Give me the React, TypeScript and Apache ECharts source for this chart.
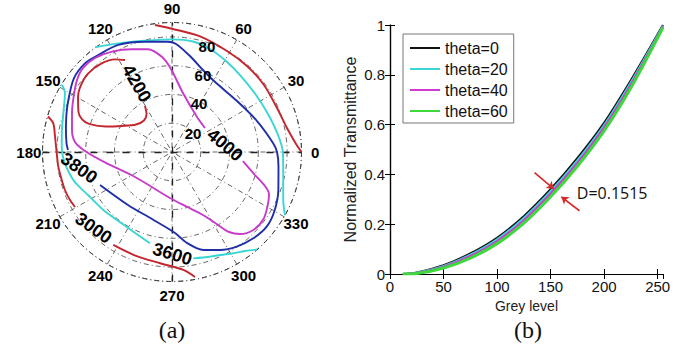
import { useEffect, useRef } from 'react';
import * as echarts from 'echarts';

// ---------- panel (a): polar contour plot ----------
const ANGLE_MIN = 0;
const ANGLE_MAX = 360;
const ANGLE_STEP = 30;
const ANGLE_LABELS = [0, 30, 60, 90, 120, 150, 180, 210, 240, 270, 300, 330];
const ANGLE_LABEL_RADIUS = 99.5;
const RADIUS_MAX = 90;
const RADIUS_STEP = 20;
const RADIAL_LABELS: [string, number, number][] = [
  ['20', 14.6, 13.2],
  ['40', 18.8, 33.4],
  ['60', 21.5, 53.5],
  ['80', 24.3, 73.2],
];

// contour lines, in radial units (x = r cos t, y = r sin t)
const C4200: number[][] = [
  [-18.8, 32.0], [-17.7, 26.4], [-19.5, 21.9], [-25.0, 19.1], [-34.7, 18.1], [-45.9, 17.7],
  [-57.7, 19.5], [-62.5, 22.6], [-65.0, 27.8], [-65.3, 38.2], [-63.2, 46.6], [-58.2, 54.7],
  [-48.9, 61.6], [-39.6, 64.4], [-32.7, 63.9],
];
const C4000: number[][] = [
  [49.3, -6.3], [57.7, -16.0], [64.6, -23.6], [67.4, -29.2], [66.7, -36.1], [63.6, -46.6],
  [56.5, -54.2], [47.3, -57.0], [39.6, -55.6], [32.0, -50.7], [21.5, -43.8], [10.2, -38.0],
  [-1.4, -32.0], [-25.7, -17.4], [-45.9, -7.6], [-60.5, 0.7], [-67.4, 6.9], [-69.5, 15.3],
  [-69.5, 27.1], [-68.4, 38.2], [-66.0, 50.0], [-61.8, 58.4], [-53.5, 65.3], [-41.7, 69.8],
  [-27.8, 71.4], [-16.7, 71.4], [-6.9, 66.0], [-0.7, 57.7], [7.6, 41.0], [17.4, 24.3], [22.9, 16.7],
];
const C3800: number[][] = [
  [-50.0, -22.9], [-30.6, -36.8], [-13.9, -46.6], [2.1, -56.3], [10.4, -63.2], [21.8, -68.1],
  [33.4, -68.1], [45.0, -65.8], [56.5, -60.0], [65.8, -51.9], [71.2, -41.0], [73.9, -26.4],
  [74.0, -10.4], [73.0, 0], [70.2, 6.3], [59.1, 21.5], [45.2, 35.4], [29.2, 49.3], [21.5, 57.0],
  [12.5, 66.7], [2.8, 75.1], [-2.8, 76.6], [-18.8, 76.6], [-37.3, 74.4], [-51.2, 67.4],
  [-60.5, 61.6], [-68.1, 51.4], [-71.6, 38.4], [-73.3, 27.1], [-73.7, 15.3], [-73.3, 6.0], [-72.3, 1.4],
];
const C3600_NE: number[][] = [
  [-53.5, 72.8], [-37.3, 75.5], [-18.8, 77.3], [-0.2, 78.3], [14.6, 76.8], [26.4, 71.6],
  [37.5, 63.2], [47.9, 52.8], [58.4, 39.6], [66.7, 26.4], [73.7, 11.8], [77.1, -0.7],
  [77.3, -17.2], [77.3, -33.4], [78.5, -43.8],
];
const C3600_W: number[][] = [
  [-76.4, 46.6], [-74.4, 41.0], [-75.5, 26.9], [-76.6, 13.0], [-76.6, 3.7], [-74.4, -7.9],
  [-68.6, -19.5], [-63.9, -24.7], [-58.4, -29.9], [-47.7, -40.3], [-37.3, -47.9], [-25.7, -56.3],
  [-15.3, -63.4],
];
const C3600_S: number[][] = [
  [14.8, -73.9], [26.4, -72.8], [33.4, -71.6], [42.6, -70.4], [50.7, -68.8], [59.1, -67.8],
];
const CRED_NE: number[][] = [
  [-11.8, 88.3], [0.7, 85.5], [19.5, 80.3], [38.2, 70.2], [52.1, 59.8], [63.9, 46.6],
  [73.0, 30.6], [79.9, 16.7], [86.2, 5.6], [90.0, 0],
];
const C3000_W: number[][] = [
  [-86.2, 24.7], [-82.5, 19.9], [-81.3, 10.6], [-80.1, -0.9], [-79.0, -10.2], [-76.6, -19.5],
  [-74.4, -26.4], [-70.9, -33.4], [-67.4, -38.2],
];
const C3000_S: number[][] = [
  [-40.8, -64.6], [-26.4, -71.6], [-8.3, -77.3], [7.9, -82.0], [16.0, -86.9],
];
const CONTOUR_LABELS: [string, number, number, number][] = [
  ['4200', -24.5, 47.7, -60],
  ['4000', 36.8, 4.9, -40],
  ['3800', -64.6, -11.1, -35],
  ['3000', -54.5, -52.8, -35],
  ['3600', 0.3, -70.9, -17],
];

// ---------- panel (b): transmittance curves ----------
const GREY = [12, 25, 50, 75, 100, 125, 150, 175, 200, 225, 255];
const THETA0 = [0, 0.006, 0.035, 0.082, 0.145, 0.232, 0.34, 0.465, 0.607, 0.778, 1.0];
const THETA20 = [0, 0.005, 0.032, 0.077, 0.139, 0.225, 0.332, 0.456, 0.598, 0.77, 0.997];
const THETA40 = [0, 0.004, 0.029, 0.072, 0.132, 0.216, 0.323, 0.446, 0.589, 0.761, 0.994];
const THETA60 = [0, 0.002, 0.024, 0.064, 0.122, 0.204, 0.31, 0.433, 0.575, 0.748, 0.99];
const X_TICKS = [0, 50, 100, 150, 200, 250];
const Y_TICKS = [0, 0.2, 0.4, 0.6, 0.8, 1];
const ARROW_A: number[][] = [[135, 0.407], [153, 0.342]];
const ARROW_B: number[][] = [[177, 0.254], [160, 0.31]];
const D_LABEL: [string, number, number] = ['D=0.1515', 174, 0.327];

const SANS = '"Liberation Sans", Arial, sans-serif';
const RED = '#c4262e';
const CYAN = '#3ad6d6';
const BLUE = '#1f2fa8';
const MAGENTA = '#c63cc8';

export default function App() {
  const ref = useRef<HTMLDivElement>(null);
  useEffect(() => {
    if (!ref.current) return;
    const chart = echarts.init(ref.current, undefined, { renderer: 'svg' });
    const gridDash = { color: '#555', width: 0.9, type: [5, 3, 1, 3] as any };
    const contour = (name: string, data: number[][], color: string) => ({
      name,
      type: 'line',
      xAxisIndex: 0,
      yAxisIndex: 0,
      data,
      showSymbol: false,
      symbol: 'none',
      smooth: 0.3,
      silent: true,
      clip: false,
      lineStyle: { color, width: 1.9, opacity: 1 },
      z: 5,
    });
    const zip = (ys: number[]) => GREY.map((g, i) => [g, ys[i]]);
    const curve = (name: string, ys: number[], color: string, width: number) => ({
      name,
      type: 'line',
      xAxisIndex: 1,
      yAxisIndex: 1,
      data: zip(ys),
      showSymbol: false,
      symbol: 'none',
      smooth: 0.3,
      lineStyle: { color, width },
      itemStyle: { color },
    });
    const textLabel = {
      textBorderWidth: 0,
      textBorderColor: 'transparent',
      textShadowBlur: 0,
      opacity: 1,
    };
    const hiddenSymbol = { color: 'transparent', opacity: 1 };
    const option: any = {
      animation: false,
      backgroundColor: '#fff',
      polar: { center: [172, 152], radius: 129.5 },
      angleAxis: {
        type: 'value',
        min: ANGLE_MIN,
        max: ANGLE_MAX,
        interval: ANGLE_STEP,
        startAngle: 0,
        clockwise: false,
        axisLine: { show: true, lineStyle: { color: '#444', width: 1, type: [5, 3, 1, 3] } },
        axisTick: { show: false },
        axisLabel: { show: false },
        splitLine: { show: true, lineStyle: gridDash },
      },
      radiusAxis: {
        type: 'value',
        min: 0,
        max: RADIUS_MAX,
        interval: RADIUS_STEP,
        axisLine: { show: false },
        axisTick: { show: false },
        axisLabel: { show: false },
        splitLine: { show: true, lineStyle: gridDash },
      },
      grid: [
        { left: 42.5, top: 22.5, width: 259, height: 259 },
        { left: 390, top: 25, right: 32, bottom: 77 },
      ],
      xAxis: [
        { type: 'value', gridIndex: 0, min: -RADIUS_MAX, max: RADIUS_MAX, show: false },
        {
          type: 'value', gridIndex: 1, min: 0, max: 255, interval: 50, position: 'bottom',
          name: 'Grey level', nameLocation: 'middle', nameGap: 18,
          nameTextStyle: { fontSize: 14, fontFamily: SANS, color: '#222' },
          axisLine: { lineStyle: { color: '#000', width: 1.2 } },
          axisTick: { inside: true, length: 5, lineStyle: { color: '#000' } },
          axisLabel: {
            fontSize: 15, fontFamily: SANS, color: '#111', margin: 5, showMaxLabel: false,
            formatter: (v: number) => (X_TICKS.includes(v) ? String(v) : ''),
          },
          splitLine: { show: false },
        },
        {
          type: 'value', gridIndex: 1, min: 0, max: 255, interval: 50, position: 'top',
          axisLine: { lineStyle: { color: '#000', width: 1.2 } },
          axisTick: { inside: true, length: 5, lineStyle: { color: '#000' } },
          axisLabel: { show: false },
          splitLine: { show: false },
        },
      ],
      yAxis: [
        { type: 'value', gridIndex: 0, min: -RADIUS_MAX, max: RADIUS_MAX, show: false },
        {
          type: 'value', gridIndex: 1, min: 0, max: 1, interval: 0.2, position: 'left',
          name: 'Normalized Transmittance', nameLocation: 'middle', nameGap: 32,
          nameTextStyle: { fontSize: 16, fontFamily: SANS, color: '#222' },
          axisLine: { lineStyle: { color: '#000', width: 1.2 } },
          axisTick: { inside: true, length: 5, lineStyle: { color: '#000' } },
          axisLabel: {
            fontSize: 15, fontFamily: SANS, color: '#111', margin: 5,
            formatter: (v: number) => {
              const t = Y_TICKS.find((y) => Math.abs(y - v) < 1e-9);
              return t === undefined ? '' : String(t);
            },
          },
          splitLine: { show: false },
        },
        {
          type: 'value', gridIndex: 1, min: 0, max: 1, interval: 0.2, position: 'right',
          axisLine: { lineStyle: { color: '#000', width: 1.2 } },
          axisTick: { inside: true, length: 5, lineStyle: { color: '#000' } },
          axisLabel: { show: false },
          splitLine: { show: false },
        },
      ],
      legend: {
        data: ['theta=0', 'theta=20', 'theta=40', 'theta=60'],
        orient: 'vertical',
        left: 403,
        top: 34,
        padding: [6, 6, 4, 7],
        itemGap: 5,
        itemWidth: 30,
        itemHeight: 2,
        icon: 'rect',
        backgroundColor: '#fff',
        borderColor: '#777',
        borderWidth: 1,
        borderRadius: 0,
        textStyle: { fontSize: 16, fontFamily: SANS, color: '#111', lineHeight: 16 },
      },
      series: [
        {
          type: 'scatter', coordinateSystem: 'polar', polarIndex: 0, symbolSize: 1,
          silent: true, clip: false, itemStyle: hiddenSymbol,
          data: ANGLE_LABELS.map((a) => ({ name: String(a), value: [ANGLE_LABEL_RADIUS, a] })),
          label: {
            show: true, position: 'inside', formatter: '{b}', fontSize: 15, fontWeight: 'bold',
            fontFamily: SANS, color: '#000', ...textLabel,
          },
        },
        {
          type: 'line', xAxisIndex: 0, yAxisIndex: 0, data: [], silent: true,
          markLine: {
            silent: true, symbol: 'none', animation: false,
            label: { show: false },
            lineStyle: { color: '#222', width: 1.3, type: [7, 9] },
            data: [{ xAxis: 0 }, { yAxis: 0 }],
          },
        },
        contour('3000a', C3000_W, RED),
        contour('3000b', C3000_S, RED),
        contour('3600a', C3600_NE, CYAN),
        contour('3600b', C3600_W, CYAN),
        contour('3600c', C3600_S, CYAN),
        contour('3800', C3800, BLUE),
        contour('4000', C4000, MAGENTA),
        contour('4200', C4200, RED),
        contour('redNE', CRED_NE, RED),
        {
          type: 'scatter', xAxisIndex: 0, yAxisIndex: 0, symbolSize: 1, silent: true, z: 8,
          itemStyle: hiddenSymbol,
          data: CONTOUR_LABELS.map(([t, x, y, rot]) => ({
            name: t, value: [x, y],
            label: { rotate: rot },
          })),
          label: {
            show: true, position: 'inside', formatter: '{b}', fontSize: 18, fontWeight: 'bold',
            fontFamily: SANS, color: '#000', ...textLabel,
          },
        },
        {
          type: 'scatter', xAxisIndex: 0, yAxisIndex: 0, symbolSize: 1, silent: true, z: 8,
          itemStyle: hiddenSymbol,
          data: RADIAL_LABELS.map(([t, x, y]) => ({ name: t, value: [x, y] })),
          label: {
            show: true, position: 'inside', formatter: '{b}', fontSize: 15, fontWeight: 'bold',
            fontFamily: SANS, color: '#000', ...textLabel,
          },
        },
        {
          ...curve('theta=0', THETA0, '#111', 2.2),
          markLine: {
            silent: true, animation: false, symbol: ['none', 'arrow'], symbolSize: 7,
            label: { show: false },
            lineStyle: { color: '#d42a2a', width: 1.6, type: 'solid' },
            data: [
              [{ coord: ARROW_A[0] }, { coord: ARROW_A[1] }],
              [{ coord: ARROW_B[0] }, { coord: ARROW_B[1] }],
            ],
          },
        },
        curve('theta=20', THETA20, CYAN, 2.2),
        curve('theta=40', THETA40, '#d03ad0', 2.2),
        curve('theta=60', THETA60, '#3cd83c', 3),
        {
          type: 'scatter', xAxisIndex: 1, yAxisIndex: 1, symbolSize: 1, silent: true,
          itemStyle: hiddenSymbol,
          data: [{ name: D_LABEL[0], value: [D_LABEL[1], D_LABEL[2]] }],
          label: {
            show: true, position: 'right', distance: 0, formatter: '{b}', fontSize: 16,
            fontFamily: '"Open Sans", sans-serif', color: '#111', ...textLabel,
          },
        },
      ],
      graphic: [
        {
          type: 'text',
          style: { text: '(a)', x: 172, y: 330, textAlign: 'center', textVerticalAlign: 'middle',
            font: '24px "Liberation Serif", serif', fill: '#111' },
        },
        {
          type: 'text',
          style: { text: '(b)', x: 528, y: 330, textAlign: 'center', textVerticalAlign: 'middle',
            font: '24px "Liberation Serif", serif', fill: '#111' },
        },
      ],
    };
    chart.setOption(option);
    return () => chart.dispose();
  }, []);
  return (
    <div
      ref={ref}
      style={{ position: 'fixed', left: 0, top: 0, width: 695, height: 351, background: '#fff' }}
    />
  );
}
